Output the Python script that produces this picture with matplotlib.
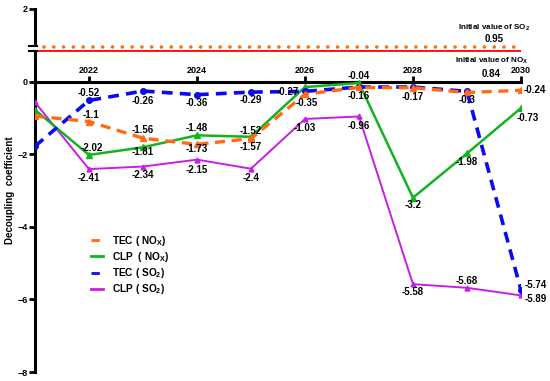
import matplotlib
matplotlib.use('Agg')
import matplotlib.pyplot as plt
from matplotlib.lines import Line2D

plt.rcParams['font.family'] = ['Liberation Sans', 'DejaVu Sans']
plt.rcParams['font.weight'] = 'bold'
plt.rcParams['mathtext.fontset'] = 'custom'
plt.rcParams['mathtext.rm'] = 'Liberation Sans:bold'
plt.rcParams['mathtext.default'] = 'regular'

years = [2021, 2022, 2023, 2024, 2025, 2026, 2027, 2028, 2029, 2030]
tec_nox = [-0.95, -1.1, -1.56, -1.73, -1.57, -0.35, -0.16, -0.17, -0.3, -0.24]
clp_nox = [-0.78, -2.02, -1.81, -1.48, -1.52, -0.15, -0.04, -3.2, -1.98, -0.73]
tec_so2 = [-1.78, -0.52, -0.26, -0.36, -0.29, -0.27, -0.15, -0.15, -0.27, -5.74]
clp_so2 = [-0.57, -2.41, -2.34, -2.15, -2.4, -1.03, -0.96, -5.58, -5.68, -5.89]
init_so2 = 0.95
init_nox = 0.84

# label offsets in pixels (dx, dy, ha), None = no label
off_tec_nox = [None, (2, 7, 'center'), (0, 8, 'center'), (0, -5, 'center'), (0, -8, 'center'),
               (2, -9, 'center'), (0, -9, 'center'), (0, -9, 'center'), (0, -8, 'center'), (3, 0, 'left')]
off_clp_nox = [None, (3, 7, 'center'), (0, -5, 'center'), (0, 7, 'center'), (0, 6, 'center'),
               None, (0, 7, 'center'), (0, -7, 'center'), (0, -9, 'center'), (7, -10, 'center')]
off_tec_so2 = [None, (0, 7, 'center'), (0, -10, 'center'), (0, -8, 'center'), (0, -8, 'center'),
               (-17, -1, 'center'), None, None, None, (4, 5, 'left')]
off_clp_so2 = [None, (0, -9, 'center'), (0, -8, 'center'), (0, -10, 'center'), (0, -9, 'center'),
               (0, -9, 'center'), (0, -10, 'center'), (0, -8, 'center'), (0, 7, 'center'), (4, -4, 'left')]

c_orange = '#ff6a13'
c_green = '#12b41e'
c_blue = '#0a0af0'
c_purple = '#c61ee6'

fig = plt.figure(figsize=(5.5, 3.81), dpi=100)
ax = fig.add_axes([0.0636, 0.0236, 0.8836, 0.9528])

ax.hlines(init_so2, 2021.17, 2029.93, colors=c_orange, linestyles=(0, (0.01, 2.7)), linewidth=2.6,
          capstyle='round')
ax.hlines(init_nox, 2021, 2030, colors='#ff1010', linewidth=1.4)

ax.plot(years, clp_so2, color=c_purple, lw=1.4, marker='^', ms=3.5, zorder=3)
ax.plot(years, clp_nox, color=c_green, lw=1.8, marker='^', ms=4, zorder=4)
ax.plot(years, tec_so2, color=c_blue, lw=2.6, ls=(0, (3, 2)), marker='o', ms=4, zorder=5)
ax.plot(years, tec_nox, color=c_orange, lw=2.4, ls=(0, (3, 2)), marker='^', ms=4, zorder=6)

for vals, offs in [(tec_nox, off_tec_nox), (clp_nox, off_clp_nox),
                   (tec_so2, off_tec_so2), (clp_so2, off_clp_so2)]:
    for x, v, o in zip(years, vals, offs):
        if o is None:
            continue
        ax.annotate(f'{v:g}', (x, v), xytext=(o[0], o[1]), textcoords='offset pixels',
                    ha=o[2], va='center', fontsize=7, fontweight='bold', zorder=10,
                    annotation_clip=False)

ax.set_xlim(2021, 2030)
ax.set_ylim(-8, 2)

for s in ['right', 'bottom']:
    ax.spines[s].set_visible(False)
ax.spines['top'].set_position(('data', 0))
ax.spines['top'].set_linewidth(2.2)
ax.spines['left'].set_linewidth(2.2)
ax.xaxis.tick_top()
ax.set_xticks([2022, 2024, 2026, 2028, 2030])
ax.tick_params(axis='x', direction='out', length=4, width=2, pad=1, labelsize=6.5)
ax.set_yticks([2, 0, -2, -4, -6, -8])
ax.tick_params(axis='y', direction='out', length=4, width=2, pad=1, labelsize=6.5)
for lab in ax.get_xticklabels() + ax.get_yticklabels():
    lab.set_fontweight('bold')

ax.set_ylabel('Decoupling  coefficient', fontsize=7, fontweight='bold', labelpad=2)

# axis break mark
yt = ax.get_yaxis_transform()
ax.plot([0, 0], [0.86, 0.96], transform=yt, color='white', lw=3, clip_on=False, zorder=20)
ax.plot([-0.012, 0.004], [0.97, 0.97], transform=yt, color='black', lw=1.5, clip_on=False, zorder=21)
ax.plot([-0.012, 0.004], [0.85, 0.85], transform=yt, color='black', lw=1.5, clip_on=False, zorder=21)

ax.text(2029.5, 1.48, 'Initial value of SO$_2$', fontsize=5.8, ha='center', va='center')
ax.text(2029.5, 1.16, f'{init_so2:g}', fontsize=7, ha='center', va='center')
ax.text(2029.45, 0.58, 'Initial value of NO$_X$', fontsize=5.8, ha='center', va='center')
ax.text(2029.45, 0.22, f'{init_nox:g}', fontsize=7, ha='center', va='center')

handles = [Line2D([], [], color=c_orange, lw=2, ls=(0, (3, 3))),
           Line2D([], [], color=c_green, lw=2),
           Line2D([], [], color=c_blue, lw=2, ls=(0, (3, 3))),
           Line2D([], [], color=c_purple, lw=2)]
labels = ['TEC ( NO$_X$)', 'CLP  ( NO$_X$)', 'TEC ( SO$_2$)', 'CLP ( SO$_2$)']
ax.legend(handles, labels, loc='upper left', bbox_to_anchor=(0.105, 0.395), frameon=False,
          fontsize=7.3, handlelength=1.2, handletextpad=0.9, labelspacing=0.22, borderpad=0)

fig.savefig('out.png', dpi=100)
